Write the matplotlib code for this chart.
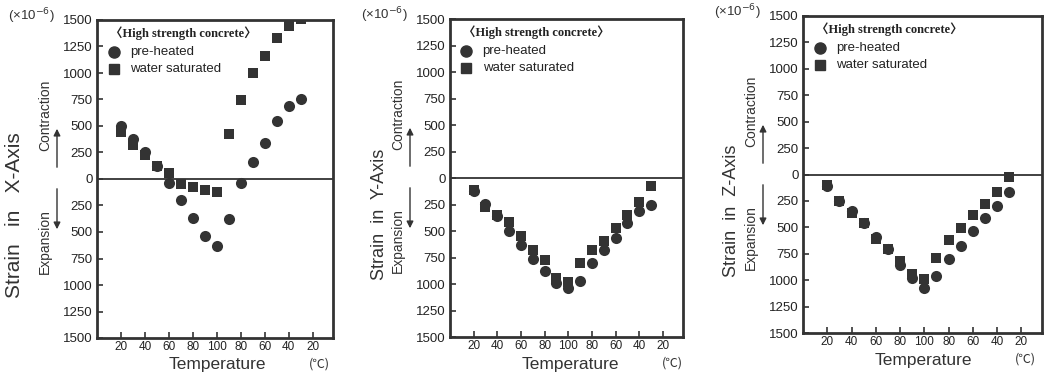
import matplotlib
matplotlib.use("Agg")
import matplotlib.pyplot as plt
import numpy as np

## donnees (compression = +, dilatation = -)
temp_labels = ["20", "40", "60", "80", "100", "80", "60", "40", "20"]
steps = [1, 1.5, 2, 2.5, 3, 3.5, 4, 4.5, 5, 5.5, 6, 6.5, 7, 7.5, 8, 8.5]  # 20,30..100..30 degC

x_preheated = [500, 382, 251, 125, -35, -200, -369, -540, -630, -375, -35, 156, 340, 547, 687, 750]
x_saturated = [445, 318, 229, 124, 54, -51, -80, -105, -127, 420, 744, 998, 1158, 1332, 1447, 1510]

y_preheated = [-126, -242, -362, -504, -636, -761, -875, -992, -1039, -976, -803, -677, -567, -425, -308, -258]
y_saturated = [-110, -274, -346, -419, -551, -677, -778, -944, -985, -803, -677, -592, -472, -346, -230, -79]

z_preheated = [-110, -249, -347, -457, -589, -709, -857, -983, -1077, -958, -803, -674, -536, -410, -296, -164]
z_saturated = [-101, -249, -369, -457, -611, -709, -819, -945, -992, -788, -621, -510, -384, -280, -164, -22]

axis_names = ["X-Axis", "Y-Axis", "Z-Axis"]
y_ticks = [1500, 1250, 1000, 750, 500, 250, 0, -250, -500, -750, -1000, -1250, -1500]

W, H = 1044, 374
gris = "#333333"
sans = ["Liberation Sans", "DejaVu Sans"]
serif = ["Liberation Serif", "Noto Sans CJK JP", "DejaVu Serif"]

fig = plt.figure(figsize=(W / 100, H / 100), dpi=100)

def fx(x):
    return x / W

def fy(y):
    return 1 - y / H

# boites en pixels : gauche, haut, droite, bas
boites = [(97, 20, 333, 338), (450, 19, 683, 337), (803, 16, 1042, 333)]
series = [(x_preheated, x_saturated), (y_preheated, y_saturated), (z_preheated, z_saturated)]
# titre vertical : decalage, taille, espacement
ylab = [(-82, 15, "   "), (-70, 13, "  "), (-71, 13, "  ")]

for k in range(3):
    g, h, d, b = boites[k]
    ax = fig.add_axes([fx(g), fy(b), fx(d - g), (b - h) / H])
    pre, sat = series[k]
    ax.scatter(steps, pre, marker="o", s=64, color=gris, zorder=3, linewidths=0)
    ax.scatter(steps, sat, marker="s", s=58, color=gris, zorder=4, linewidths=0)
    ax.axhline(0, color=gris, lw=1.3, zorder=2)
    ax.set_xlim(0, 9.85)
    ax.set_ylim(-1500, 1500)
    ax.set_xticks(range(1, 10))
    ax.set_xticklabels(temp_labels, fontsize=8.5, family=sans, color="#222222")
    ax.set_yticks(y_ticks)
    ax.set_yticklabels([str(abs(v)) for v in y_ticks], fontsize=9.5, family=sans, color="#222222")
    ax.tick_params(direction="in", length=4, width=1.2, color=gris, pad=3)
    ax.tick_params(axis="x", pad=2)
    for s in ax.spines.values():
        s.set_linewidth(2)
        s.set_color(gris)

    # legende dessinee a la main
    ax.text(0.055, 0.958, "\u3008High strength concrete\u3009", transform=ax.transAxes,
            fontsize=9, family=serif, weight="bold", color="#222222", va="center")
    ax.plot([0.07], [0.9], "o", ms=8, color=gris, transform=ax.transAxes)
    ax.plot([0.07], [0.845], "s", ms=7.5, color=gris, transform=ax.transAxes)
    ax.text(0.14, 0.9, "pre-heated", transform=ax.transAxes, fontsize=9.5,
            family=sans, color="#222222", va="center")
    ax.text(0.14, 0.845, "water saturated", transform=ax.transAxes, fontsize=9.5,
            family=sans, color="#222222", va="center")

    # textes autour
    dx, taille, esp = ylab[k]
    fig.text(fx(g + dx), fy((h + b) / 2 + 36), "Strain" + esp + "in" + esp + axis_names[k],
             rotation=90, fontsize=taille, family=sans, color="#333333", ha="center", va="center")
    fig.text(fx(g - 52), fy(h + 95), "Contraction", rotation=90, fontsize=10,
             family=sans, color="#333333", ha="center", va="center")
    fig.text(fx(g - 52), fy(h + 222), "Expansion", rotation=90, fontsize=10,
             family=sans, color="#333333", ha="center", va="center")
    fig.add_artist(matplotlib.patches.FancyArrowPatch(
        (fx(g - 40), fy(h + 150)), (fx(g - 40), fy(h + 106)), transform=fig.transFigure,
        arrowstyle="-|>", mutation_scale=10, lw=1, color="#333333"))
    fig.add_artist(matplotlib.patches.FancyArrowPatch(
        (fx(g - 40), fy(h + 166)), (fx(g - 40), fy(h + 212)), transform=fig.transFigure,
        arrowstyle="-|>", mutation_scale=10, lw=1, color="#333333"))
    fig.text(fx(g - 66), fy(h - 4), r"(×10$^{-6}$)", fontsize=9.5, family=sans,
             color="#333333", ha="center", va="center")
    fig.text(fx(g + 120), fy(b + 27), "Temperature", fontsize=12.5, family=sans,
             color="#333333", ha="center", va="center")
    fig.text(fx(g + 222), fy(b + 26), "(\u2103)", fontsize=9,
             family=["Noto Sans CJK JP", "DejaVu Sans"], color="#333333", ha="center", va="center")

plt.savefig("out.png", dpi=100)
